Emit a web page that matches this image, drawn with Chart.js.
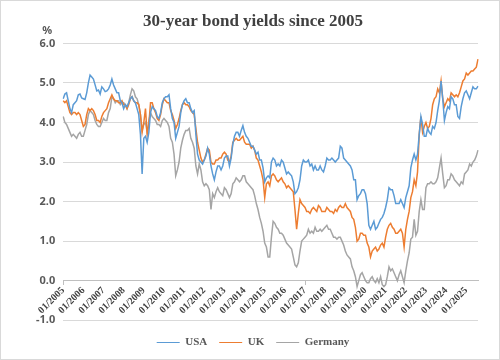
<!DOCTYPE html>
<html>
<head>
<meta charset="utf-8">
<script src="https://cdn.jsdelivr.net/npm/chart.js@4.4.1/dist/chart.umd.min.js"></script>
<style>
  body { margin: 0; background: #fff; }
  #wrap { width: 500px; height: 360px; box-sizing: border-box; border: 1px solid #d9d9d9; }
</style>
</head>
<body>
<div id="wrap"><canvas id="myChart" width="498" height="358"></canvas></div>
<script>
// month labels 01/2005 .. 08/2025
var months = [];
for (var yr = 2005; yr <= 2025; yr++) {
  for (var m = 1; m <= 12; m++) {
    if (yr === 2025 && m > 8) break;
    months.push((m < 10 ? '0' + m : '' + m) + '/' + yr);
  }
}

var yTicks = [-1, 0, 1, 2, 3, 4, 5, 6];

// 30-year yields, %, one row per year
var usa = [
  4.60, 4.72, 4.75, 4.55, 4.35, 4.25, 4.45, 4.50, 4.55, 4.70, 4.72, 4.62,
  4.60, 4.58, 4.75, 5.00, 5.20, 5.15, 5.10, 4.95, 4.80, 4.82, 4.72, 4.90,
  4.85, 4.78, 4.80, 4.85, 4.95, 5.10, 4.95, 4.85, 4.75, 4.75, 4.55, 4.50,
  4.35, 4.45, 4.40, 4.50, 4.60, 4.65, 4.55, 4.50, 4.35, 4.20, 3.70, 2.70,
  3.60, 3.65, 3.50, 3.75, 4.25, 4.40, 4.35, 4.30, 4.15, 4.10, 4.25, 4.50,
  4.60, 4.65, 4.65, 4.70, 4.35, 4.10, 4.00, 3.60, 3.75, 3.90, 4.25, 4.45,
  4.55, 4.60, 4.50, 4.50, 4.35, 4.25, 4.30, 3.70, 3.20, 3.05, 3.00, 2.95,
  3.05, 3.15, 3.35, 3.20, 2.90, 2.70, 2.55, 2.75, 2.90, 2.90, 2.80, 2.90,
  3.10, 3.15, 3.15, 2.90, 3.10, 3.45, 3.65, 3.75, 3.75, 3.65, 3.80, 3.92,
  3.75, 3.65, 3.60, 3.50, 3.40, 3.40, 3.30, 3.20, 3.25, 3.05, 3.05, 2.85,
  2.50, 2.60, 2.65, 2.60, 3.00, 3.10, 3.05, 2.90, 2.95, 2.90, 3.05, 3.00,
  2.85, 2.70, 2.75, 2.70, 2.65, 2.50, 2.20, 2.25, 2.35, 2.55, 2.90, 3.05,
  3.00, 3.00, 3.05, 2.90, 2.95, 2.80, 2.90, 2.80, 2.80, 2.90, 2.80, 2.75,
  2.90, 3.10, 3.05, 3.05, 3.10, 3.05, 3.00, 3.05, 3.10, 3.40, 3.35, 3.10,
  3.05, 3.00, 2.95, 2.90, 2.80, 2.55, 2.55, 2.05, 2.15, 2.20, 2.30, 2.30,
  2.20, 1.95, 1.40, 1.30, 1.40, 1.50, 1.30, 1.35, 1.45, 1.55, 1.60, 1.70,
  1.85, 2.05, 2.35, 2.30, 2.30, 2.15, 1.95, 1.95, 1.95, 2.05, 1.95, 1.85,
  2.10, 2.25, 2.40, 2.85, 3.05, 3.20, 3.05, 3.20, 3.70, 4.15, 3.95, 3.65,
  3.65, 3.85, 3.75, 3.70, 3.90, 3.85, 4.00, 4.30, 4.55, 5.05, 4.60, 4.05,
  4.25, 4.40, 4.35, 4.65, 4.60, 4.45, 4.45, 4.15, 4.10, 4.40, 4.60, 4.75,
  4.80, 4.70, 4.60, 4.75, 4.90, 4.85, 4.85, 4.92
];

var uk = [
  4.55, 4.50, 4.55, 4.40, 4.25, 4.20, 4.25, 4.25, 4.20, 4.25, 4.20, 4.05,
  3.90, 3.95, 4.20, 4.35, 4.30, 4.35, 4.30, 4.20, 4.05, 4.05, 4.00, 4.15,
  4.25, 4.30, 4.35, 4.50, 4.60, 4.70, 4.60, 4.55, 4.55, 4.50, 4.50, 4.55,
  4.45, 4.45, 4.35, 4.45, 4.60, 4.65, 4.55, 4.50, 4.50, 4.45, 4.20, 3.75,
  4.00, 4.35, 3.70, 3.95, 4.50, 4.50, 4.35, 4.25, 4.10, 4.05, 4.20, 4.45,
  4.60, 4.55, 4.50, 4.50, 4.30, 4.20, 4.05, 3.85, 3.95, 4.10, 4.30, 4.45,
  4.50, 4.45, 4.45, 4.40, 4.30, 4.25, 4.20, 3.85, 3.50, 3.30, 3.10, 3.00,
  3.05, 3.20, 3.35, 3.30, 3.00, 2.95, 2.95, 3.05, 3.05, 3.10, 3.10, 3.20,
  3.25, 3.20, 3.05, 3.00, 3.15, 3.50, 3.55, 3.60, 3.55, 3.55, 3.60, 3.65,
  3.50, 3.45, 3.45, 3.45, 3.35, 3.40, 3.30, 3.10, 3.05, 2.90, 2.75, 2.55,
  2.10, 2.45, 2.50, 2.40, 2.65, 2.70, 2.65, 2.55, 2.50, 2.55, 2.60, 2.50,
  2.45, 2.35, 2.40, 2.35, 2.30, 2.25, 1.80, 1.30, 1.70, 2.05, 1.95, 1.90,
  1.85, 1.75, 1.75, 1.70, 1.80, 1.85, 1.80, 1.75, 1.90, 1.85, 1.75, 1.75,
  1.75, 1.85, 1.80, 1.75, 1.75, 1.70, 1.80, 1.75, 1.85, 1.90, 1.85, 1.85,
  1.95, 1.85, 1.80, 1.75, 1.60, 1.55, 1.35, 1.00, 1.05, 1.20, 1.20, 1.15,
  1.15, 0.95, 0.85, 0.60, 0.75, 0.80, 0.85, 0.75, 0.80, 0.90, 0.95, 0.85,
  1.10, 1.30, 1.40, 1.45, 1.35, 1.30, 1.20, 1.20, 1.25, 1.30, 1.20, 0.85,
  1.30, 1.55, 1.75, 2.10, 2.25, 2.55, 2.40, 2.75, 3.70, 4.15, 3.75, 3.90,
  4.00, 3.85, 3.90, 4.10, 4.45, 4.60, 4.65, 4.85, 4.75, 5.05, 4.60, 4.40,
  4.50, 4.60, 4.55, 4.75, 4.70, 4.65, 4.70, 4.65, 4.75, 4.90, 5.05, 5.10,
  5.25, 5.20, 5.25, 5.30, 5.30, 5.35, 5.40, 5.60
];

var germany = [
  4.15, 4.00, 3.95, 3.85, 3.75, 3.65, 3.70, 3.65, 3.60, 3.70, 3.75, 3.65,
  3.65, 3.80, 3.95, 4.20, 4.30, 4.25, 4.20, 4.05, 3.95, 3.90, 3.90, 4.00,
  4.10, 4.05, 4.05, 4.25, 4.35, 4.65, 4.60, 4.50, 4.55, 4.55, 4.45, 4.50,
  4.50, 4.45, 4.35, 4.50, 4.70, 4.85, 4.80, 4.65, 4.60, 4.45, 4.20, 3.80,
  3.95, 4.00, 3.75, 4.05, 4.25, 4.15, 4.10, 4.05, 3.95, 3.95, 3.90, 4.05,
  4.10, 4.05, 4.00, 3.90, 3.60, 3.50, 3.20, 2.65, 2.80, 3.00, 3.35, 3.55,
  3.70, 3.80, 3.80, 3.85, 3.60, 3.50, 3.35, 2.90, 2.70, 2.95, 2.80, 2.50,
  2.40, 2.45, 2.40, 2.30, 1.80, 2.20, 2.10, 2.25, 2.35, 2.25, 2.20, 2.15,
  2.35, 2.30, 2.20, 2.10, 2.20, 2.45, 2.50, 2.60, 2.55, 2.50, 2.55, 2.65,
  2.65, 2.50, 2.45, 2.40, 2.35, 2.30, 2.15, 1.95, 1.80, 1.60, 1.45, 1.25,
  0.95, 0.85, 0.60, 0.60, 1.10, 1.50, 1.45, 1.35, 1.30, 1.20, 1.20, 1.15,
  1.05, 0.95, 0.90, 0.85, 0.80, 0.60, 0.40, 0.35, 0.45, 0.75, 1.00, 1.05,
  1.10, 1.15, 1.30, 1.20, 1.25, 1.20, 1.35, 1.25, 1.25, 1.30, 1.25, 1.30,
  1.35, 1.40, 1.30, 1.30, 1.20, 1.10, 1.10, 1.05, 1.10, 1.10, 1.00, 0.90,
  0.75, 0.65, 0.60, 0.55, 0.35, 0.25, 0.10, -0.15, 0.00, 0.15, 0.20, 0.10,
  0.00, -0.05, -0.05, 0.05, 0.10, 0.00, -0.05, 0.05, -0.05, 0.10, -0.10, -0.15,
  -0.10, 0.10, 0.35, 0.25, 0.30, 0.20, 0.10, 0.00, 0.15, 0.25, 0.10, -0.05,
  0.25, 0.50, 0.70, 1.05, 1.10, 1.55, 1.15, 1.25, 1.75, 2.05, 1.80, 1.80,
  2.35, 2.45, 2.45, 2.50, 2.45, 2.45, 2.50, 2.60, 2.85, 3.10, 2.70, 2.35,
  2.40, 2.55, 2.55, 2.70, 2.65, 2.55, 2.50, 2.45, 2.40, 2.50, 2.45, 2.70,
  2.75, 2.80, 2.95, 2.90, 3.00, 3.05, 3.15, 3.30
];

var grey = '#595959';

// "%" unit above the y axis
const percentLabel = {
  id: 'percentLabel',
  afterDraw(chart) {
    const { ctx, chartArea } = chart;
    ctx.save();
    ctx.font = 'bold 11px "Noto Sans"';
    ctx.fillStyle = grey;
    ctx.textAlign = 'center';
    ctx.textBaseline = 'middle';
    ctx.fillText('%', chartArea.left - 16, chartArea.top - 13);
    ctx.restore();
  }
};

const data = {
  labels: months,
  datasets: [
    { label: 'USA', data: usa, borderColor: '#5b9bd5', backgroundColor: '#5b9bd5' },
    { label: 'UK', data: uk, borderColor: '#ed7d31', backgroundColor: '#ed7d31' },
    { label: 'Germany', data: germany, borderColor: '#a5a5a5', backgroundColor: '#a5a5a5' }
  ]
};

const config = {
  type: 'line',
  data,
  options: {
    responsive: false,
    animation: false,
    layout: { padding: { left: 27, right: 21, top: 0, bottom: 1 } },
    elements: {
      point: { radius: 0 },
      line: { borderWidth: 1.5, tension: 0 }
    },
    scales: {
      x: {
        position: { y: 0 },
        // axis sits on the 0 line, so it takes no room of its own
        afterFit: function (scale) { scale.height = 0; },
        border: { display: true, color: '#bfbfbf' },
        grid: {
          drawOnChartArea: false,
          drawTicks: true,
          tickLength: 4,
          color: ctx => (ctx.index % 12 === 0 ? '#bfbfbf' : 'rgba(0,0,0,0)')
        },
        ticks: {
          autoSkip: false,
          minRotation: 45,
          maxRotation: 45,
          padding: 0,
          color: '#404040',
          font: { family: 'Liberation Serif', size: 10, weight: 'bold' },
          callback: function (val, i) {
            return months[i].slice(0, 3) === '01/' ? months[i] : null;
          }
        }
      },
      y: {
        min: yTicks[0],
        max: yTicks[yTicks.length - 1],
        border: { display: false },
        grid: { color: '#d9d9d9', drawTicks: false },
        ticks: {
          stepSize: 1,
          padding: 8,
          color: grey,
          font: { family: 'Noto Sans', size: 11, weight: 'bold' },
          callback: v => v.toFixed(1)
        }
      }
    },
    plugins: {
      title: {
        display: true,
        text: '30-year bond yields since 2005',
        color: '#404040',
        font: { family: 'Liberation Serif', size: 17, weight: 'bold' },
        padding: { top: 10, bottom: 12 }
      },
      legend: {
        position: 'bottom',
        title: { display: true, text: '', font: { size: 4 }, padding: 0 },
        labels: {
          usePointStyle: true,
          pointStyle: 'line',
          pointStyleWidth: 23,
          padding: 12,
          color: grey,
          font: { family: 'Liberation Serif', size: 11, weight: 'bold' }
        }
      },
      tooltip: { enabled: false }
    }
  },
  plugins: [percentLabel]
};

const myChart = new Chart(document.getElementById('myChart'), config);
</script>
</body>
</html>
